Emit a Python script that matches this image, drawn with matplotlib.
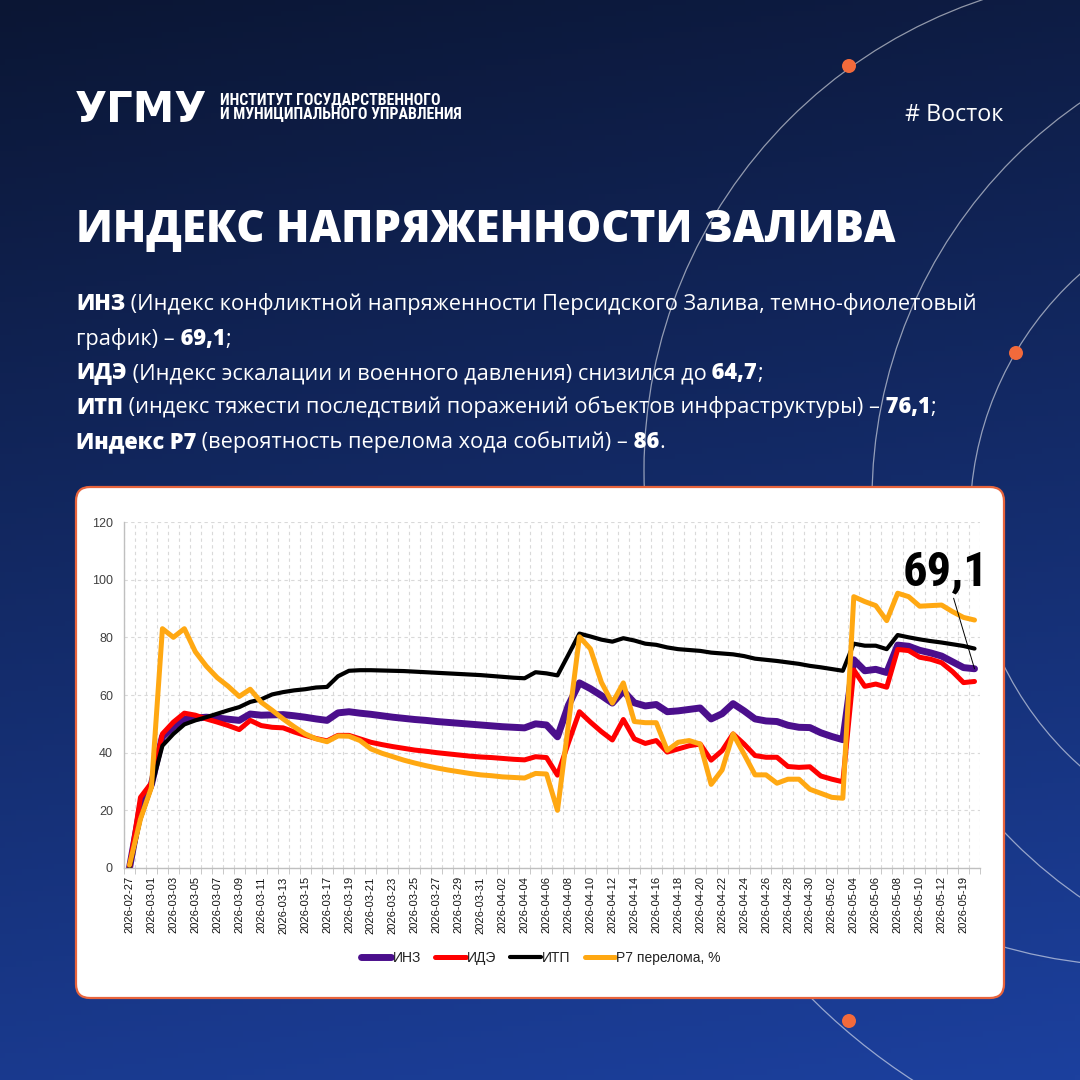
import numpy as np
import pandas as pd
import matplotlib
matplotlib.use('Agg')
import matplotlib.pyplot as plt
from matplotlib import font_manager as fm
from matplotlib.patches import Circle, Arc, FancyBboxPatch

# categories: daily from 02-27 to 05-12, then a few later dates
DATES = [d.strftime('%Y-%m-%d') for d in pd.date_range('2026-02-27', '2026-05-12')]
DATES += ['2026-05-18', '2026-05-19', '2026-05-20']

INZ = [0, 21, 29, 45.5, 49, 51.5, 52, 52.3, 52, 51.6,
       51.2, 53.4, 53, 53.1, 53.2, 52.8, 52.3, 51.7, 51.2, 53.8,
       54.2, 53.7, 53.3, 52.8, 52.3, 51.9, 51.5, 51.2, 50.8, 50.5,
       50.2, 49.9, 49.6, 49.3, 49.0, 48.8, 48.6, 50.0, 49.6, 45.5,
       56.5, 64.2, 62.2, 59.8, 57.2, 61.4, 57.3, 56.2, 56.7, 54.2,
       54.5, 55, 55.5, 51.7, 53.5, 57, 54.5, 51.7, 51, 50.8,
       49.5, 48.8, 48.7, 46.9, 45.6, 44.5, 72.2, 68.4, 68.9, 67.8,
       77.3, 76.9, 75.5, 74.6, 73.5, 71.5, 69.5, 69.1]

IDE = [0, 24.5, 29.5, 46.5, 50.6, 53.7, 53, 51.7, 50.6, 49.4,
       48, 51.2, 49.4, 48.8, 48.6, 47.2, 46, 44.9, 44.1, 46,
       46, 44.8, 43.6, 42.8, 42.1, 41.5, 40.9, 40.5, 40, 39.6,
       39.2, 38.8, 38.5, 38.3, 38, 37.7, 37.5, 38.6, 38.3, 32.2,
       43.5, 54.2, 50.6, 47.3, 44.4, 51.5, 44.8, 43.2, 44.2, 40.2,
       41.3, 42.4, 43, 37.4, 40.7, 46.5, 43, 39, 38.4, 38.4,
       35.2, 34.9, 35.1, 31.9, 30.8, 29.9, 68.7, 63, 63.8, 62.7,
       75.8, 75.4, 73.1, 72.4, 71.2, 68.1, 64.3, 64.7]

ITP = [0, 17, 28, 42.4, 46.5, 49.8, 51.2, 52.3, 53.5, 54.7,
       55.8, 57.6, 58.5, 60.2, 61, 61.6, 62, 62.6, 62.8, 66.5,
       68.4, 68.6, 68.6, 68.5, 68.4, 68.3, 68.1, 67.9, 67.7, 67.5,
       67.3, 67.1, 66.9, 66.6, 66.3, 66, 65.8, 67.9, 67.5, 66.8,
       74, 81.3, 80.3, 79.2, 78.5, 79.7, 78.9, 77.8, 77.4, 76.5,
       75.9, 75.6, 75.3, 74.7, 74.4, 74.1, 73.5, 72.6, 72.2, 71.8,
       71.3, 70.8, 70.1, 69.6, 69.0, 68.4, 77.8, 77.1, 77.1, 75.9,
       80.8, 80.0, 79.3, 78.7, 78.2, 77.6, 77.0, 76.1]

P7 = [1, 17, 28, 83, 80, 83, 75, 70, 66, 63,
      59.5, 62, 57.5, 54.7, 51.7, 49, 46.5, 44.8, 43.8, 45.8,
      45.7, 44.2, 41.3, 39.8, 38.6, 37.4, 36.4, 35.5, 34.7, 34,
      33.4, 32.8, 32.3, 32, 31.6, 31.4, 31.2, 32.8, 32.6, 20,
      50, 80.2, 76, 64.4, 57.2, 64.2, 50.8, 50.4, 50.4, 40.8,
      43.6, 44.2, 43, 29, 34, 46.5, 39.5, 32.3, 32.3, 29.4,
      30.8, 30.8, 27.3, 25.9, 24.5, 24.2, 94.1, 92.4, 91, 85.8,
      95.3, 94.1, 90.8, 91, 91.2, 88.9, 86.9, 86]

TITLE = 'ИНДЕКС НАПРЯЖЕННОСТИ ЗАЛИВА'
LINES = [
    [('ИНЗ', True), (' (Индекс конфликтной напряженности Персидского Залива, темно-фиолетовый', False)],
    [('график) –', False), (' 69,1', True), (';', False)],
    [('ИДЭ', True), (' (Индекс эскалации и военного давления) снизился до', False), (' 64,7', True), (';', False)],
    [('ИТП', True), (' (индекс тяжести последствий поражений объектов инфраструктуры) –', False), (' 76,1', True), (';', False)],
    [('Индекс Р7', True), (' (вероятность перелома хода событий) –', False), (' 86', True), ('.', False)],
]


def pick(*names):
    for n in names:
        try:
            fm.findfont(fm.FontProperties(family=n), fallback_to_default=False)
            return n
        except ValueError:
            pass
    return None


SANS = pick('Open Sans', 'Lato') or 'DejaVu Sans'
ARIAL = pick('Liberation Sans') or 'DejaVu Sans'
NARROW = pick('Liberation Sans Narrow', 'Roboto Condensed', 'Open Sans Condensed',
              'DejaVu Sans Condensed', 'Arial Narrow')
plt.rcParams['font.family'] = [ARIAL, 'DejaVu Sans']

W = 1080
fig = plt.figure(figsize=(10.8, 10.8), dpi=100)
renderer = fig.canvas.get_renderer()

# background in pixel coords
bg = fig.add_axes([0, 0, 1, 1])
bg.set_xlim(0, W)
bg.set_ylim(W, 0)
bg.axis('off')

top = np.array([11, 22, 52]) / 255
bot = np.array([28, 64, 158]) / 255
yy, xx = np.mgrid[0:1:200j, 0:1:200j]
t = np.clip(0.85 * yy + 0.15 * xx, 0, 1)[..., None]
bg.imshow(top * (1 - t) + bot * t, extent=[0, W, W, 0], aspect='auto', zorder=0)

arc_kw = dict(fill=False, ec=(1, 1, 1, 0.55), lw=0.9, zorder=1)
bg.add_patch(Circle((1140, 470), 496, **arc_kw))
bg.add_patch(Circle((1355, 500), 483, **arc_kw))
bg.add_patch(Circle((1300, 520), 330, **arc_kw))
bg.add_patch(Arc((1250, 560), 1240, 1240, theta1=95, theta2=150, **arc_kw))
for cx, cy in [(849, 66), (1016, 353), (849, 1021)]:
    bg.add_patch(Circle((cx, cy), 7, fc='#f26a3b', ec='none', zorder=2))

bg.add_patch(FancyBboxPatch((76, 487), 928, 511, boxstyle='round,pad=0,rounding_size=14',
                            fc='white', ec='#e8643c', lw=1.6, zorder=3))


def text_width(txt, **kw):
    tt = bg.text(0, 0, txt, **kw)
    w = tt.get_window_extent(renderer).width
    tt.remove()
    return w


def fit_size(txt, target, size0=20, **kw):
    return size0 * target / text_width(txt, fontsize=size0, **kw)


head_font = NARROW or ARIAL

# header
logo_size = fit_size('УГМУ', 132, family='DejaVu Sans', fontweight='bold')
bg.text(75, 122, 'УГМУ', fontsize=logo_size, family='DejaVu Sans', fontweight='bold',
        color='white', va='baseline', zorder=4)
inst_size = fit_size('И МУНИЦИПАЛЬНОГО УПРАВЛЕНИЯ', 243, family=head_font, fontweight='bold')
inst_size = min(inst_size, 12)
bg.text(220, 105, 'ИНСТИТУТ ГОСУДАРСТВЕННОГО', fontsize=inst_size, family=head_font,
        fontweight='bold', color='white', va='baseline', zorder=4)
bg.text(220, 119.5, 'И МУНИЦИПАЛЬНОГО УПРАВЛЕНИЯ', fontsize=inst_size, family=head_font,
        fontweight='bold', color='white', va='baseline', zorder=4)
tag_size = fit_size('# Восток', 98, family=SANS)
bg.text(1003, 121, '# Восток', fontsize=tag_size, family=SANS, color='white',
        ha='right', va='baseline', zorder=4)

title_size = fit_size(TITLE, 817, family=SANS, fontweight='heavy')
bg.text(76, 242, TITLE, fontsize=title_size, family=SANS, fontweight='heavy',
        color='white', va='baseline', zorder=4)

# paragraph with mixed weights
w1 = sum(text_width(s, fontsize=20, family=SANS, fontweight='heavy' if b else 'normal')
         for s, b in LINES[0])
par_size = 20 * 896 / w1
for k, parts in enumerate(LINES):
    x = 76
    y = 310 + 34.5 * k
    for s, b in parts:
        tt = bg.text(x, y, s, fontsize=par_size, family=SANS,
                     fontweight='heavy' if b else 'normal', color='white',
                     va='baseline', zorder=4)
        x += tt.get_window_extent(renderer).width

# chart
ax = fig.add_axes([124 / W, 1 - 868 / W, 856 / W, 346 / W], zorder=5)
ax.set_facecolor('white')
x = np.arange(len(DATES))
style = dict(solid_joinstyle='round', solid_capstyle='round')
ax.plot(x, INZ, color='#4B0F8C', lw=5.0, label='ИНЗ', **style)
ax.plot(x, IDE, color='#FF0000', lw=3.6, label='ИДЭ', **style)
ax.plot(x, ITP, color='black', lw=3.0, label='ИТП', **style)
ax.plot(x, P7, color='#FFA812', lw=3.6, label='Р7 перелома, %', **style)

ax.set_xlim(-0.5, len(DATES) - 0.5)
ax.set_ylim(0, 120)
ax.set_yticks(range(0, 121, 20))
ax.set_xticks(x[0:77:2])
ax.set_xticklabels(DATES[0:77:2])
ax.set_xticks(np.arange(-0.5, len(DATES)), minor=True)
ax.tick_params(axis='x', which='major', length=0, pad=6, labelrotation=90, labelsize=8, labelcolor='#111111')
ax.tick_params(axis='x', which='minor', length=4, color='#bfbfbf', direction='out')
ax.tick_params(axis='y', length=0, pad=8, labelsize=9, labelcolor='#404040')
ax.grid(axis='x', which='minor', ls=(0, (3, 3)), color='#d9d9d9', lw=0.8)
ax.grid(axis='y', which='major', ls=(0, (3, 3)), color='#d9d9d9', lw=0.8)
ax.set_axisbelow(True)
for side in ['top', 'right']:
    ax.spines[side].set_visible(False)
for side in ['left', 'bottom']:
    ax.spines[side].set_color('#bfbfbf')
    ax.spines[side].set_linewidth(1)

ax.legend(loc='center', bbox_to_anchor=(0.487, -0.26), ncol=4, frameon=False, fontsize=10,
          handlelength=2.2, handletextpad=0.1, columnspacing=1.0, labelcolor='#222222')

ann_size = min(39, fit_size('69,1', 86, family=head_font, fontweight='bold'))
ax.annotate('69,1', xy=(x[-1], INZ[-1]), xytext=(74.4, 102.5), ha='center', va='center',
            fontsize=ann_size, fontweight='bold', family=head_font, color='black',
            arrowprops=dict(arrowstyle='-', color='black', lw=0.7, shrinkA=0, shrinkB=0))

fig.savefig('out.png', dpi=100)
